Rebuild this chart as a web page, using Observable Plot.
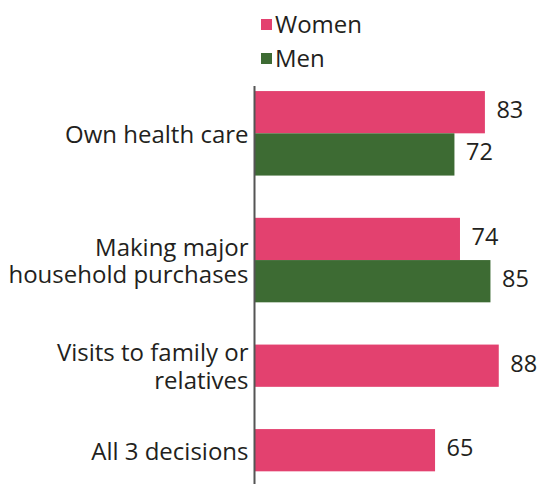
<!DOCTYPE html>
<html><head><meta charset="utf-8">
<script src="https://cdn.jsdelivr.net/npm/d3@7"></script>
<script src="https://cdn.jsdelivr.net/npm/@observablehq/plot@0.6"></script>
<style>
body{margin:0;background:#fff;font-family:"Open Sans",sans-serif;color:#231f20;}
#legend{position:relative;height:80px;width:542px;}
.item{position:absolute;left:261px;display:flex;align-items:center;font-size:24px;line-height:24px;height:24px;}
.sw{width:11px;height:11px;margin-right:3px;}
</style></head><body>
<div id="legend"></div><div id="chart"></div>
<script>
const categories = ["Own health care", "Making major\nhousehold purchases", "Visits to family or\nrelatives", "All 3 decisions"];
const women = [83, 74, 88, 65];
const men = [72, 85, null, null];
const seriesNames = ["Women", "Men"];
const seriesColors = ["#e3416f", "#3d6b33"];

// legend
const legend = document.getElementById("legend");
seriesNames.forEach((s, i) => {
  const it = document.createElement("div");
  it.className = "item";
  it.style.top = (12 + i * 34) + "px";
  const sw = document.createElement("span");
  sw.className = "sw";
  sw.style.background = seriesColors[i];
  const t = document.createElement("span");
  t.textContent = s;
  it.appendChild(sw); it.appendChild(t);
  legend.appendChild(it);
});

// rows: one slot per bar, one empty slot between groups
const rows = [];
const centers = [];
let slot = 0;
categories.forEach((c, i) => {
  const start = slot;
  rows.push({cat: c, series: seriesNames[0], value: women[i], slot: slot++});
  if (men[i] != null) rows.push({cat: c, series: seriesNames[1], value: men[i], slot: slot++});
  centers.push((start + slot) / 2);
  slot += 1;
});
const labelMap = new Map(centers.map((c, i) => [c, categories[i]]));

const chart = Plot.plot({
  width: 542,
  height: 404,
  marginLeft: 255,
  marginRight: 10,
  marginTop: 6,
  marginBottom: 0,
  style: {fontFamily: "Open Sans", fontSize: "24px", color: "#231f20", background: "#fff", overflow: "visible"},
  x: {domain: [0, 100], axis: null},
  y: {domain: [-0.12, 9.3], reverse: true, axis: null},
  color: {domain: seriesNames, range: seriesColors},
  marks: [
    Plot.rect(rows, {x1: 0, x2: "value", y1: "slot", y2: d => d.slot + 1, fill: "series"}),
    Plot.text(rows, {x: "value", y: d => d.slot + 0.5, text: d => String(d.value), dx: 11, dy: -2, textAnchor: "start", fontSize: 23.5, fill: "#231f20"}),
    Plot.ruleX([0], {stroke: "#555", strokeWidth: 2, dx: -1}),
    Plot.axisY(centers, {anchor: "left", tickSize: 0, tickPadding: 7, fontSize: 24, lineHeight: 1.15, label: null, tickFormat: d => labelMap.get(d)})
  ]
});
document.getElementById("chart").appendChild(chart);
</script>
</body></html>
